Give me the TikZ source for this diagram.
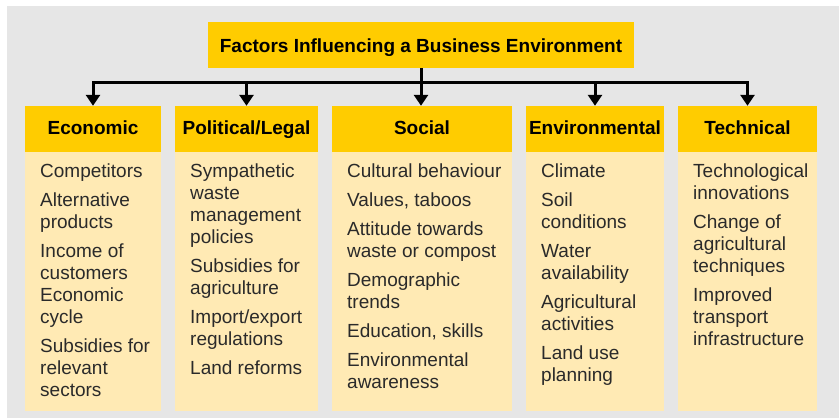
\documentclass[tikz,border=0pt]{standalone}
\usepackage{fontspec}
\setmainfont{Liberation Sans}
\usetikzlibrary{arrows.meta}
\definecolor{bgc}{HTML}{E6E6E6}
\definecolor{hdrc}{HTML}{FFCC00}
\definecolor{bodyc}{HTML}{FFEAB4}
\definecolor{txtc}{HTML}{2A2A2A}
\tikzset{
  titlebox/.style={fill=hdrc, inner sep=0pt, minimum width=426pt, minimum height=46pt,
    text height=15pt, text depth=0pt, font=\fontsize{19}{22}\selectfont\bfseries},
  hdrbox/.style={fill=hdrc, inner sep=0pt, minimum height=46pt,
    text height=12pt, text depth=0pt, font=\fontsize{19}{22}\selectfont\bfseries},
  bodybox/.style={fill=bodyc, inner sep=0pt, anchor=north west},
  bodytxt/.style={anchor=base west, inner sep=0pt, text=txtc, font=\fontsize{19}{22}\selectfont},
  conn/.style={line width=3pt, line join=miter, -{Triangle[width=14pt,length=11pt]}}
}
\begin{document}
\begin{tikzpicture}[x=1pt,y=-1pt]
\useasboundingbox (0,0) rectangle (839,419);
\fill[bgc] (7,6) rectangle (839,418);

\node[titlebox] (title) at (421,45) {Factors Influencing a Business Environment};

\node[hdrbox, minimum width=136pt] (h1) at (93,129) {Economic};
\node[hdrbox, minimum width=143pt] (h2) at (246.5,129) {Political/Legal};
\node[hdrbox, minimum width=180pt] (h3) at (422,129) {Social};
\node[hdrbox, minimum width=138pt] (h4) at (595,129) {Environmental};
\node[hdrbox, minimum width=139pt] (h5) at (747.5,129) {Technical};

\node[bodybox, minimum width=136pt, minimum height=259pt] (b1) at (25,152) {};
\node[bodybox, minimum width=143pt, minimum height=259pt] (b2) at (175,152) {};
\node[bodybox, minimum width=180pt, minimum height=259pt] (b3) at (332,152) {};
\node[bodybox, minimum width=138pt, minimum height=259pt] (b4) at (526,152) {};
\node[bodybox, minimum width=139pt, minimum height=259pt] (b5) at (678,152) {};

\coordinate (j1) at (h1.north |- 0,83);
\coordinate (j2) at (h2.north |- 0,83);
\coordinate (j3) at (title.south |- 0,83);
\coordinate (j4) at (h4.north |- 0,83);
\coordinate (j5) at (h5.north |- 0,83);

\draw[conn] (j3) -- (j1) -- (h1.north);
\draw[conn] (j3) -- (j5) -- (h5.north);
\draw[conn] (j2) -- (h2.north);
\draw[conn] (j4) -- (h4.north);
\draw[conn] (title.south) -- (title.south |- h3.north);

\foreach \y/\t [count=\i] in {178/Competitors, 207/Alternative, 229/products,
  258/Income of, 280/customers, 302/Economic, 324/cycle,
  353/Subsidies for, 375/relevant, 397/sectors}
  \node[bodytxt] (c1-\i) at (40,\y) {\t};

\foreach \y/\t [count=\i] in {178/Sympathetic, 200/waste, 222/management, 244/policies,
  273/Subsidies for, 295/agriculture, 324/{Import/export}, 346/regulations, 375/Land reforms}
  \node[bodytxt] (c2-\i) at (190,\y) {\t};

\foreach \y/\t [count=\i] in {178/Cultural behaviour, 207/{Values, taboos},
  236/Attitude towards, 258/waste or compost, 287/Demographic, 309/trends,
  338/{Education, skills}, 367/Environmental, 389/awareness}
  \node[bodytxt] (c3-\i) at (347,\y) {\t};

\foreach \y/\t [count=\i] in {178/Climate, 207/Soil, 229/conditions, 258/Water,
  280/availability, 309/Agricultural, 331/activities, 360/Land use, 382/planning}
  \node[bodytxt] (c4-\i) at (541,\y) {\t};

\foreach \y/\t [count=\i] in {178/Technological, 200/innovations, 229/Change of,
  251/agricultural, 273/techniques, 302/Improved, 324/transport, 346/infrastructure}
  \node[bodytxt] (c5-\i) at (693,\y) {\t};
\end{tikzpicture}
\end{document}
